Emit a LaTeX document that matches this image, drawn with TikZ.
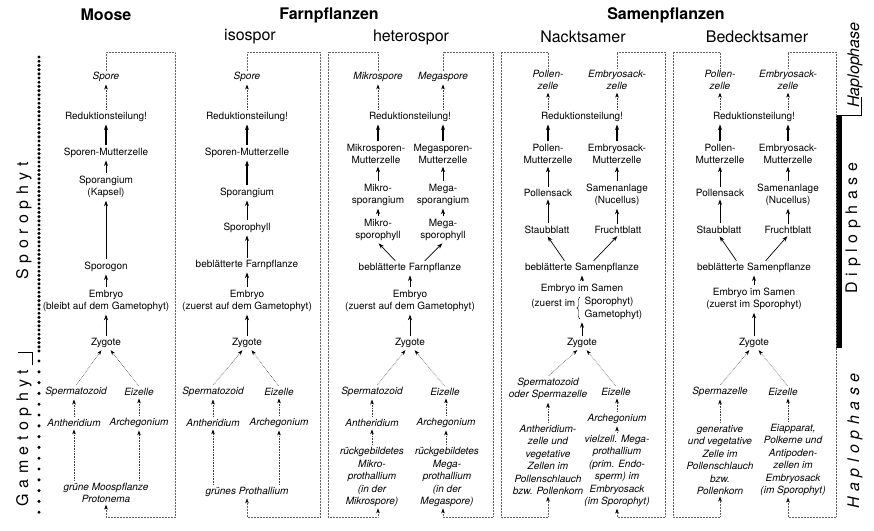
\documentclass[tikz,border=0pt]{standalone}
\usepackage{fontspec}
\setmainfont{TeX Gyre Heros}
\newfontfamily\sperr[LetterSpace=35]{TeX Gyre Heros}
\usepackage{tikz}
\usetikzlibrary{arrows.meta,decorations.pathreplacing}

\begin{document}
\begin{tikzpicture}[
  x=1pt, y=-1pt,
  dip/.style={align=center, inner sep=1.5pt, font=\fontsize{10}{12.5}\selectfont},
  hap/.style={dip, font=\fontsize{10}{12.5}\selectfont\itshape},
  head/.style={font=\fontsize{16}{18}\selectfont\bfseries},
  sub/.style={font=\fontsize{16}{18}\selectfont},
  side/.style={rotate=90, font=\fontsize{16}{18}\sperr},
  arr/.style={-{Stealth[length=5.5pt, width=4pt]}, line width=0.7pt, shorten <=1pt, shorten >=1pt},
  farr/.style={arr, line width=1.1pt},
  darr/.style={-{Stealth[length=5pt, width=3.6pt, color=black]}, densely dotted, line width=0.6pt, black!75, shorten <=1pt, shorten >=1pt},
  cyc/.style={-{Stealth[length=5pt, width=3.6pt, color=black]}, densely dotted, line width=0.5pt, gray!75!black}
]
\useasboundingbox (0,0) rectangle (874,530);

% headings
\node[head] (hMoose) at (106,15) {Moose};
\node[head] (hFarn) at (329,15) {Farnpflanzen};
\node[head] (hSamen) at (666,15) {Samenpflanzen};
\node[sub] (sIso) at (250,37) {isospor};
\node[sub] (sHet) at (411,37) {heterospor};
\node[sub] (sNackt) at (583,37) {Nacktsamer};
\node[sub] (sBed) at (757,37) {Bedecktsamer};

% left margin: generations
\foreach \k in {0,...,70} \fill (39,57+4.2*\k) circle (1.7pt);
\foreach \k in {0,...,14} \fill (39,361+10.8*\k) circle (1.7pt);
\node[side] (lSpo) at (24,221) {Sporophyt};
\node[side] (lGam) at (24,438) {Gametophyt};
\draw[thin] (18,352) -- (32,352) -- (32,365);

% right margin: phases
\fill (836,115) rectangle (841.5,348);
\draw[thin] (841,115) -- (861,115) -- (861,97);
\node[rotate=90, font=\fontsize{16}{18}\selectfont\itshape] (lHapA) at (855,65) {Haplophase};
\node[side] (lDip) at (853,228) {Diplophase};
\node[side, font=\fontsize{16}{18}\sperr\itshape] (lHapB) at (855,441) {Haplophase};

% Moose
\node[hap] (mSpore) at (106,77) {Spore};
\node[dip] (mRed) at (106,117) {Reduktionsteilung!};
\node[dip] (mSMZ) at (106,153) {Sporen-Mutterzelle};
\node[dip] (mSpg) at (106,187) {Sporangium\\(Kapsel)};
\node[dip] (mSpgon) at (106,267) {Sporogon};
\node[dip] (mEmb) at (106,301) {Embryo\\(bleibt auf dem Gametophyt)};
\node[dip] (mZyg) at (106,343) {Zygote};
\node[hap] (mSperm) at (76,392) {Spermatozoid};
\node[hap] (mEiz) at (139,392) {Eizelle};
\node[hap] (mAnth) at (74,423) {Antheridium};
\node[hap] (mArch) at (139,423) {Archegonium};
\node[hap] (mPfl) at (106,493) {grüne Moospflanze\\Protonema};
\coordinate (mTR) at (175,52);
\coordinate (mBR) at (175,517);
\draw[darr] (mRed) -- (mSpore);
\draw[farr] (mSMZ) -- (mRed);
\draw[arr] (mSpg) -- (mSMZ);
\draw[arr] (mSpgon) -- (mSpg);
\draw[arr] (mEmb) -- (mSpgon);
\draw[arr] (mZyg) -- (mEmb);
\draw[darr] (mSperm.north) -- ([xshift=-4pt]mZyg.south);
\draw[darr] (mEiz.north) -- ([xshift=4pt]mZyg.south);
\draw[darr] (mAnth) -- (mSperm.south -| mAnth);
\draw[darr] (mArch) -- (mEiz);
\draw[darr] (mPfl.north -| mAnth) -- (mAnth);
\draw[darr] (mPfl.north -| mArch) -- (mArch);
\draw[cyc] (mSpore.north) |- (mTR) -- (mBR) -| (mPfl.south);

% Farnpflanzen, isospor
\node[hap] (fSpore) at (247,77) {Spore};
\node[dip] (fRed) at (247,117) {Reduktionsteilung!};
\node[dip] (fSMZ) at (247,153) {Sporen-Mutterzelle};
\node[dip] (fSpg) at (247,193) {Sporangium};
\node[dip] (fSph) at (247,228) {Sporophyll};
\node[dip] (fBebl) at (247,265) {beblätterte Farnpflanze};
\node[dip] (fEmb) at (247,301) {Embryo\\(zuerst auf dem Gametophyt)};
\node[dip] (fZyg) at (247,343) {Zygote};
\node[hap] (fSperm) at (213,392) {Spermatozoid};
\node[hap] (fEiz) at (279,392) {Eizelle};
\node[hap] (fAnth) at (213,423) {Antheridium};
\node[hap] (fArch) at (279,423) {Archegonium};
\node[hap] (fProth) at (247,492) {grünes Prothallium};
\coordinate (fTR) at (320,52);
\coordinate (fBR) at (320,517);
\draw[darr] (fRed) -- (fSpore);
\draw[farr] (fSMZ) -- (fRed);
\draw[farr] (fSpg) -- (fSMZ);
\draw[arr] (fSph) -- (fSpg);
\draw[arr] (fBebl) -- (fSph);
\draw[arr] (fEmb) -- (fBebl);
\draw[arr] (fZyg) -- (fEmb);
\draw[darr] (fSperm.north) -- ([xshift=-4pt]fZyg.south);
\draw[darr] (fEiz.north) -- ([xshift=4pt]fZyg.south);
\draw[darr] (fAnth) -- (fSperm);
\draw[darr] (fArch) -- (fEiz);
\draw[darr] (fProth.north -| fAnth) -- (fAnth);
\draw[darr] (fProth.north -| fArch) -- (fArch);
\draw[cyc] (fSpore.north) |- (fTR) -- (fBR) -| (fProth.south);

% Farnpflanzen, heterospor
\node[hap] (hMiSp) at (378,77) {Mikrospore};
\node[hap] (hMeSp) at (443,77) {Megaspore};
\node[dip] (hRed) at (410,117) {Reduktionsteilung!};
\node[dip] (hMiMZ) at (376,154) {Mikrosporen-\\Mutterzelle};
\node[dip] (hMeMZ) at (443,154) {Megasporen-\\Mutterzelle};
\node[dip] (hMiSpg) at (378,195) {Mikro-\\sporangium};
\node[dip] (hMeSpg) at (443,195) {Mega-\\sporangium};
\node[dip] (hMiSph) at (378,230) {Mikro-\\sporophyll};
\node[dip] (hMeSph) at (443,230) {Mega-\\sporophyll};
\node[dip] (hBebl) at (410,268) {beblätterte Farnpflanze};
\node[dip] (hEmb) at (410,301) {Embryo\\(zuerst auf dem Gametophyt)};
\node[dip] (hZyg) at (410,343) {Zygote};
\node[hap] (hSperm) at (372,392) {Spermatozoid};
\node[hap] (hEiz) at (445,392) {Eizelle};
\node[hap] (hAnth) at (372,423) {Antheridium};
\node[hap] (hArch) at (446,423) {Archegonium};
\node[hap] (hMiPr) at (372,477) {rückgebildetes\\Mikro-\\prothallium\\(in der\\Mikrospore)};
\node[hap] (hMePr) at (447,477) {rückgebildetes\\Mega-\\prothallium\\(in der\\Megaspore)};
\coordinate (hTL) at (328,52);
\coordinate (hBL) at (328,517);
\coordinate (hTR) at (493,52);
\coordinate (hBR) at (493,517);
\draw[darr] (hRed.north -| hMiSp) -- (hMiSp);
\draw[darr] (hRed.north -| hMeSp) -- (hMeSp);
\draw[farr] (hMiMZ.north -| hMiSp) -- (hRed.south -| hMiSp);
\draw[farr] (hMeMZ) -- (hRed.south -| hMeMZ);
\draw[arr] (hMiSpg) -- (hMiMZ.south -| hMiSpg);
\draw[arr] (hMeSpg) -- (hMeMZ);
\draw[arr] (hMiSph) -- (hMiSpg);
\draw[arr] (hMeSph) -- (hMeSpg);
\draw[arr] ([xshift=-14pt]hBebl.north) -- (hMiSph.south);
\draw[arr] ([xshift=14pt]hBebl.north) -- (hMeSph.south);
\draw[arr] (hEmb) -- (hBebl);
\draw[arr] (hZyg) -- (hEmb);
\draw[darr] ([xshift=5pt]hSperm.north) -- ([xshift=-4pt]hZyg.south);
\draw[darr] (hEiz.north) -- ([xshift=4pt]hZyg.south);
\draw[darr] (hAnth) -- (hSperm);
\draw[darr] (hArch) -- (hEiz.south -| hArch);
\draw[darr] (hMiPr) -- (hAnth);
\draw[darr] (hMePr.north -| hArch) -- (hArch);
\draw[cyc] (hMiSp.north) |- (hTL) -- (hBL) -| (hMiPr.south -| hMiSp);
\draw[cyc] (hMeSp.north) |- (hTR) -- (hBR) -| (hMePr.south -| hMeSp);

% Samenpflanzen, Nacktsamer
\node[hap] (nPZ) at (548,80) {Pollen-\\zelle};
\node[hap] (nEZ) at (617,80) {Embryosack-\\zelle};
\node[dip] (nRed) at (582,117) {Reduktionsteilung!};
\node[dip] (nPMZ) at (548,154) {Pollen-\\Mutterzelle};
\node[dip] (nEMZ) at (617,154) {Embryosack-\\Mutterzelle};
\node[dip] (nPS) at (548,193) {Pollensack};
\node[dip] (nSA) at (617,195) {Samenanlage\\(Nucellus)};
\node[dip] (nSB) at (547,230) {Staubblatt};
\node[dip] (nFB) at (618,230) {Fruchtblatt};
\node[dip] (nBebl) at (582,268) {beblätterte Samenpflanze};
\node[dip] (nEmb) at (582,289) {Embryo im Samen};
\node[dip, align=left, anchor=west] (nEmbS) at (583,308.5) {Sporophyt)\\Gametophyt)};
\node[dip, anchor=east] (nEmbZ) at (577,303.5) {(zuerst im};
\draw[decorate, decoration={brace, amplitude=3pt}, thin] (580,319) -- (580,297);
\node[dip] (nZyg) at (582,343) {Zygote};
\node[hap] (nSperm) at (548,389) {Spermatozoid\\oder Spermazelle};
\node[hap] (nEiz) at (616,392) {Eizelle};
\node[hap] (nArch) at (617,419) {Archegonium};
\node[hap] (nAnth) at (548,460) {Antheridium-\\zelle und\\vegetative\\Zellen im\\Pollenschlauch\\bzw. Pollenkorn};
\node[hap] (nMePr) at (617,471) {vielzell. Mega-\\prothallium\\(prim. Endo-\\sperm) im\\Embryosack\\(im Sporophyt)};
\coordinate (nTL) at (501,52);
\coordinate (nBL) at (501,517);
\coordinate (nTR) at (665,52);
\coordinate (nBR) at (665,517);
\draw[darr] (nRed.north -| nPZ) -- (nPZ);
\draw[darr] (nRed.north -| nEZ) -- (nEZ);
\draw[farr] (nPMZ) -- (nRed.south -| nPMZ);
\draw[farr] (nEMZ) -- (nRed.south -| nEMZ);
\draw[arr] (nPS) -- (nPMZ);
\draw[arr] (nSA) -- (nEMZ);
\draw[arr] (nSB.north -| nPS) -- (nPS);
\draw[arr] (nFB.north -| nSA) -- (nSA);
\draw[arr] ([xshift=-17pt]nBebl.north) -- (nSB.south);
\draw[arr] ([xshift=11pt]nBebl.north) -- (nFB.south);
\draw[arr] (nEmb) -- (nBebl);
\draw[arr] (nZyg) -- (nZyg |- nEmbS.south);
\draw[darr] (nSperm.north) -- ([xshift=-4pt]nZyg.south);
\draw[darr] (nEiz.north) -- ([xshift=4pt]nZyg.south);
\draw[darr] (nAnth) -- (nSperm);
\draw[darr] (nArch) -- (nEiz.south -| nArch);
\draw[darr] (nMePr) -- (nArch);
\draw[cyc] (nPZ.north) |- (nTL) -- (nBL) -| (nAnth.south);
\draw[cyc] (nEZ.north) |- (nTR) -- (nBR) -| (nMePr.south);

% Samenpflanzen, Bedecktsamer
\node[hap] (bPZ) at (720,80) {Pollen-\\zelle};
\node[hap] (bEZ) at (788,80) {Embryosack-\\zelle};
\node[dip] (bRed) at (754,117) {Reduktionsteilung!};
\node[dip] (bPMZ) at (720,154) {Pollen-\\Mutterzelle};
\node[dip] (bEMZ) at (788,154) {Embryosack-\\Mutterzelle};
\node[dip] (bPS) at (720,193) {Pollensack};
\node[dip] (bSA) at (788,195) {Samenanlage\\(Nucellus)};
\node[dip] (bSB) at (719,230) {Staubblatt};
\node[dip] (bFB) at (788,230) {Fruchtblatt};
\node[dip] (bBebl) at (754,268) {beblätterte Samenpflanze};
\node[dip] (bEmb) at (754,299) {Embryo im Samen\\(zuerst im Sporophyt)};
\node[dip] (bZyg) at (754,343) {Zygote};
\node[hap] (bSperm) at (720,392) {Spermazelle};
\node[hap] (bEiz) at (783,392) {Eizelle};
\node[hap] (bGen) at (720,460) {generative\\und vegetative\\Zelle im\\Pollenschlauch\\bzw.\\Pollenkorn};
\node[hap] (bEia) at (793,460) {Eiapparat,\\Polkerne und\\Antipoden-\\zellen im\\Embryosack\\(im Sporophyt)};
\coordinate (bTL) at (673,52);
\coordinate (bBL) at (673,517);
\coordinate (bTR) at (836,52);
\coordinate (bBR) at (836,517);
\draw[darr] (bRed.north -| bPZ) -- (bPZ);
\draw[darr] (bRed.north -| bEZ) -- (bEZ);
\draw[farr] (bPMZ) -- (bRed.south -| bPMZ);
\draw[farr] (bEMZ) -- (bRed.south -| bEMZ);
\draw[arr] (bPS) -- (bPMZ);
\draw[arr] (bSA) -- (bEMZ);
\draw[arr] (bSB.north -| bPS) -- (bPS);
\draw[arr] (bFB) -- (bSA);
\draw[arr] ([xshift=-17pt]bBebl.north) -- (bSB.south);
\draw[arr] ([xshift=11pt]bBebl.north) -- (bFB.south);
\draw[arr] (bEmb) -- (bBebl);
\draw[arr] (bZyg) -- (bEmb);
\draw[darr] (bSperm.north) -- ([xshift=-4pt]bZyg.south);
\draw[darr] (bEiz.north -| bEZ) -- ([xshift=4pt]bZyg.south);
\draw[darr] (bGen) -- (bSperm);
\draw[darr] (bEia.north -| bEZ) -- (bEiz.south -| bEZ);
\draw[cyc] (bPZ.north) |- (bTL) -- (bBL) -| (bGen.south);
\draw[cyc] (bEZ.north) |- (bTR) -- (bBR) -| (bEia.south -| bEZ);
\end{tikzpicture}
\end{document}
